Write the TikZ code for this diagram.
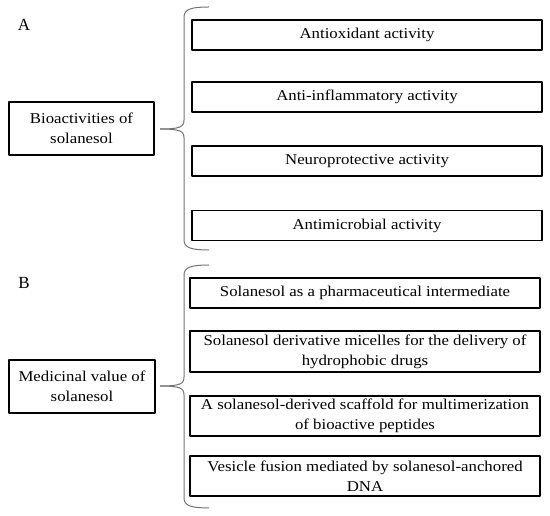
\documentclass[tikz,border=0pt]{standalone}
\usepackage{fontspec}
\setmainfont{Liberation Serif}[FakeStretch=1.12]
\newfontfamily\panelfont{Liberation Serif}
\begin{document}
\begin{tikzpicture}[line join=bevel,
  itembox/.style={draw,line width=1.1bp,inner sep=0pt,minimum width=350bp,align=center,font=\fontsize{15bp}{20bp}\selectfont},
  rootbox/.style={draw,line width=1.1bp,inner sep=0pt,minimum width=145bp,minimum height=53bp,align=center,font=\fontsize{15bp}{20bp}\selectfont},
  panel/.style={inner sep=0pt,font=\panelfont\fontsize{17bp}{20bp}\selectfont},
  brace/.style={draw=black!55,line width=1bp}]
\useasboundingbox (0bp,0bp) rectangle (550bp,516bp);
%%
\node (lbl_a) at (24.0bp,491.0bp) [panel] {A};
  \node (bio) at (81.5bp,387.5bp) [rootbox] {Bioactivities of\\solanesol};
  \node (act_0) at (367.0bp,481.0bp) [itembox,minimum height=30bp] {Antioxidant activity};
  \node (act_1) at (367.0bp,419.0bp) [itembox,minimum height=30bp] {Anti-inflammatory activity};
  \node (act_2) at (367.0bp,355.0bp) [itembox,minimum height=30bp] {Neuroprotective activity};
  \node (act_3) at (367.0bp,290.5bp) [itembox,minimum height=30bp] {Antimicrobial activity};
  \draw [brace] (209.0bp,509.0bp) ..controls (192.0bp,509.0bp) and (184.0bp,507.0bp)  .. (184.0bp,499.0bp)
    -- (184.0bp,396.0bp) ..controls (184.0bp,389.0bp) and (180.0bp,387.0bp)  .. (160.0bp,387.0bp);
  \draw [brace] (160.0bp,387.0bp) ..controls (180.0bp,387.0bp) and (184.0bp,385.0bp)  .. (184.0bp,378.0bp)
    -- (184.0bp,276.0bp) ..controls (184.0bp,268.0bp) and (192.0bp,266.0bp)  .. (209.0bp,266.0bp);
%
\node (lbl_b) at (24.0bp,233.5bp) [panel] {B};
  \node (med) at (82.0bp,129.5bp) [rootbox,minimum width=146bp] {Medicinal value of\\solanesol};
  \node (use_0) at (365.0bp,223.0bp) [itembox,minimum height=30bp] {Solanesol as a pharmaceutical intermediate};
  \node (use_1) at (365.0bp,164.5bp) [itembox,minimum height=41bp] {Solanesol derivative micelles for the delivery of\\hydrophobic drugs};
  \node (use_2) at (365.0bp,100.0bp) [itembox,minimum height=40bp] {A solanesol-derived scaffold for multimerization\\of bioactive peptides};
  \node (use_3) at (365.0bp,40.0bp) [itembox,minimum height=40bp] {Vesicle fusion mediated by solanesol-anchored\\DNA};
  \draw [brace] (209.0bp,251.0bp) ..controls (192.0bp,251.0bp) and (184.0bp,249.0bp)  .. (184.0bp,241.0bp)
    -- (184.0bp,139.0bp) ..controls (184.0bp,132.0bp) and (180.0bp,130.0bp)  .. (160.0bp,130.0bp);
  \draw [brace] (160.0bp,130.0bp) ..controls (180.0bp,130.0bp) and (184.0bp,128.0bp)  .. (184.0bp,121.0bp)
    -- (184.0bp,18.0bp) ..controls (184.0bp,10.0bp) and (192.0bp,8.0bp)  .. (209.0bp,8.0bp);
%
\end{tikzpicture}
\end{document}
